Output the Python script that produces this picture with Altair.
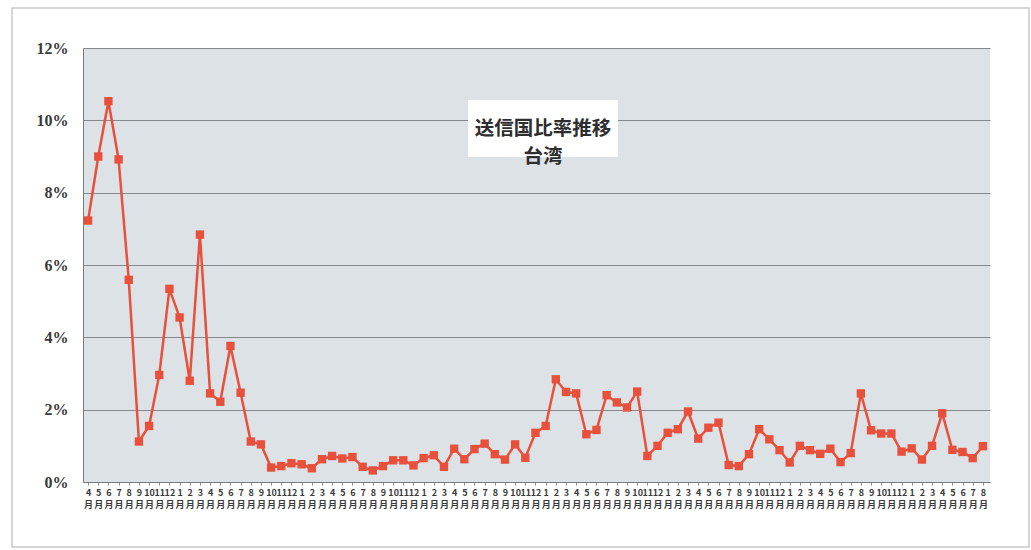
import json
import altair as alt
import pandas as pd

# Month labels, April 2007 -> August 2014
months = (
    ["4", "5", "6", "7", "8", "9", "10", "11", "12"]
    + [str(m) for m in range(1, 13)]  # 2008
    + [str(m) for m in range(1, 13)]  # 2009
    + [str(m) for m in range(1, 13)]  # 2010
    + [str(m) for m in range(1, 13)]  # 2011
    + [str(m) for m in range(1, 13)]  # 2012
    + [str(m) for m in range(1, 13)]  # 2013
    + ["1", "2", "3", "4", "5", "6", "7", "8"]  # 2014
)

# Share (%)
values = [
    7.23, 9.00, 10.53, 8.92, 5.59, 1.12, 1.55, 2.96, 5.34,
    4.55, 2.80, 6.84, 2.45, 2.22, 3.76, 2.47, 1.12, 1.04, 0.40, 0.44, 0.52,
    0.49, 0.38, 0.63, 0.72, 0.65, 0.69, 0.42, 0.32, 0.44, 0.60, 0.60, 0.46,
    0.66, 0.74, 0.42, 0.92, 0.63, 0.91, 1.06, 0.77, 0.62, 1.04, 0.67, 1.36,
    1.55, 2.84, 2.49, 2.45, 1.32, 1.44, 2.40, 2.20, 2.06, 2.50, 0.72, 1.00,
    1.36, 1.46, 1.95, 1.20, 1.50, 1.64, 0.47, 0.44, 0.77, 1.46, 1.18, 0.88,
    0.54, 1.00, 0.88, 0.78, 0.92, 0.55, 0.80, 2.45, 1.43, 1.34, 1.34, 0.84,
    0.93, 0.62, 1.00, 1.90, 0.89, 0.83, 0.66, 0.99,
]

y_ticks = [0, 2, 4, 6, 8, 10, 12]
title_lines = ["送信国比率推移", "台湾"]

RED = "#e8503c"
LABEL_FONT = "Liberation Sans Narrow"
CJK = "Noto Sans CJK JP"

df = pd.DataFrame({"i": list(range(len(values))), "month": months, "v": values})

label_expr = "[" + json.dumps(months) + "[datum.value], '月']"

x = alt.X(
    "i:Q",
    scale=alt.Scale(domain=[-0.5, len(values) - 0.3], nice=False, zero=False),
    axis=alt.Axis(
        values=list(range(len(values))),
        labelExpr=label_expr,
        grid=False,
        tickSize=3,
        tickColor="#8a8a8a",
        domainColor="#7a7a7a",
        labelFont=CJK,
        labelFontSize=9,
        labelFontWeight="bold",
        labelColor="#3a3a3a",
        labelPadding=3,
        labelLineHeight=12,
        labelAngle=0,
        labelOverlap=False,
        labelFlush=False,
        labelBound=False,
        title=None,
    ),
)

y = alt.Y(
    "v:Q",
    scale=alt.Scale(domain=[0, 12], nice=False),
    axis=alt.Axis(
        values=y_ticks,
        labelExpr="datum.value + '%'",
        grid=True,
        gridColor="#85898c",
        gridWidth=1,
        ticks=False,
        domainColor="#7a7a7a",
        labelFont=LABEL_FONT,
        labelFontSize=16,
        labelFontWeight="bold",
        labelColor="#3a3a3a",
        labelPadding=15,
        title=None,
    ),
)

base = alt.Chart(df)
line = base.mark_line(color=RED, strokeWidth=2.5).encode(x=x, y=y)
pts = base.mark_point(shape="square", filled=True, size=70, color=RED, opacity=1).encode(x=x, y=y)

one = pd.DataFrame({"a": [0]})
frame = alt.Chart(one).mark_rect(fillOpacity=0, stroke="#c9c9c9", strokeWidth=1.5).encode(
    x=alt.value(-71), x2=alt.value(946), y=alt.value(-40), y2=alt.value(499)
)
box = alt.Chart(one).mark_rect(fill="white").encode(
    x=alt.value(385), x2=alt.value(535), y=alt.value(52), y2=alt.value(109)
)
title = alt.Chart(pd.DataFrame({"t": [title_lines]})).mark_text(
    font=CJK, fontSize=19.5, fontWeight="bold", color="#2e2e2e",
    align="center", baseline="middle", lineHeight=28,
).encode(text="t", x=alt.value(460), y=alt.value(81))

chart = (
    alt.layer(frame, line, pts, box, title)
    .properties(
        width=907,
        height=434,
        background="white",
        autosize=alt.AutoSizeParams(type="none"),
        padding={"left": 83, "top": 48, "right": 41, "bottom": 68},
    )
    .configure_view(stroke=None, fill="#dde2e6")
)

chart.save("out.html", embed_options={"renderer": "svg", "actions": False})
